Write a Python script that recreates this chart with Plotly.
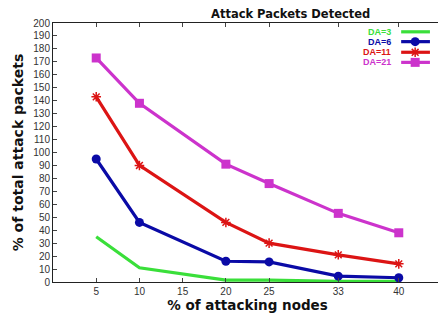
import plotly.graph_objects as go

x_nodes = [5, 10, 20, 25, 33, 40]
x_ticks = [5, 10, 15, 20, 25, 33, 40]
y_ticks = list(range(0, 201, 10))

da3 = [35, 11, 1.5, 1.5, 0.5, 0.5]
da6 = [95, 46, 16, 15.5, 4.5, 3.3]
da11 = [143, 90, 46, 30, 21, 14]
da21 = [173, 138, 91, 76, 53, 38]

names = ["DA=3", "DA=6", "DA=11", "DA=21"]
colors = ["#3adf3a", "#0a0aa6", "#dc1414", "#cc33cc"]
symbols = [None, "circle", "asterisk-open", "square"]
msizes = [0, 9, 8, 9]
series = [da3, da6, da11, da21]

fig = go.Figure()
for s, c, sym, ms in zip(series, colors, symbols, msizes):
    mode = "lines" if sym is None else "lines+markers"
    marker = dict(color=c, size=ms, symbol=sym or "circle",
                  line=dict(color=c, width=1.5 if sym == "asterisk-open" else 0))
    fig.add_trace(go.Scatter(x=x_nodes, y=s, mode=mode,
                             line=dict(color=c, width=3.2),
                             marker=marker, showlegend=False))

# manual legend (gnuplot style: text then sample) on an overlay axis
leg_y = [0.966, 0.928, 0.887, 0.848]
for nm, c, sym, ms, ly in zip(names, colors, symbols, msizes, leg_y):
    fig.add_trace(go.Scatter(
        x=[0.895, 0.969], y=[ly, ly], xaxis="x2", yaxis="y2",
        mode="lines", line=dict(color=c, width=3.2), showlegend=False,
        hoverinfo="skip"))
    if sym is not None:
        fig.add_trace(go.Scatter(
            x=[0.931], y=[ly], xaxis="x2", yaxis="y2", mode="markers",
            marker=dict(color=c, size=ms, symbol=sym,
                        line=dict(color=c, width=1.5 if sym == "asterisk-open" else 0)),
            showlegend=False, hoverinfo="skip"))
    fig.add_annotation(x=0.874, y=ly, xref="x2", yref="y2", text="<b>%s</b>" % nm,
                       showarrow=False, xanchor="right", yanchor="middle",
                       font=dict(family="Liberation Sans", size=9, color=c))

# title
fig.add_annotation(x=0.61, y=1.0, xref="paper", yref="paper",
                   text="<b>Attack Packets Detected</b>", showarrow=False,
                   xanchor="center", yanchor="bottom", yshift=0,
                   font=dict(family="DejaVu Sans", size=11.5, color="#111"))

# page body adds an 8px offset; figure is sized/margined to compensate
fig.update_layout(
    width=438, height=313,
    margin=dict(l=45, r=4, t=15, b=39),
    paper_bgcolor="white", plot_bgcolor="white",
    xaxis=dict(range=[0, 45], tickvals=x_ticks, ticktext=[str(v) for v in x_ticks],
               showgrid=False, zeroline=False, showline=True, linecolor="#222",
               linewidth=1, mirror="ticks", ticks="inside", ticklen=4,
               automargin=False,
               tickfont=dict(family="Liberation Sans", size=10, color="#333"),
               title=dict(text="<b>% of attacking nodes</b>", standoff=3,
                          font=dict(family="DejaVu Sans", size=13.5, color="#111"))),
    yaxis=dict(range=[0, 200], tickvals=y_ticks, showgrid=False, zeroline=False,
               showline=True, linecolor="#222", linewidth=1, mirror="ticks",
               ticks="inside", ticklen=4, automargin=False,
               tickfont=dict(family="Liberation Sans", size=10, color="#333"),
               title=dict(text="<b>% of total attack packets</b>", standoff=6,
                          font=dict(family="DejaVu Sans", size=14, color="#111"))),
    xaxis2=dict(range=[0, 1], overlaying="x", visible=False, domain=[0, 1]),
    yaxis2=dict(range=[0, 1], overlaying="y", visible=False),
)

fig.write_html("out.html")
